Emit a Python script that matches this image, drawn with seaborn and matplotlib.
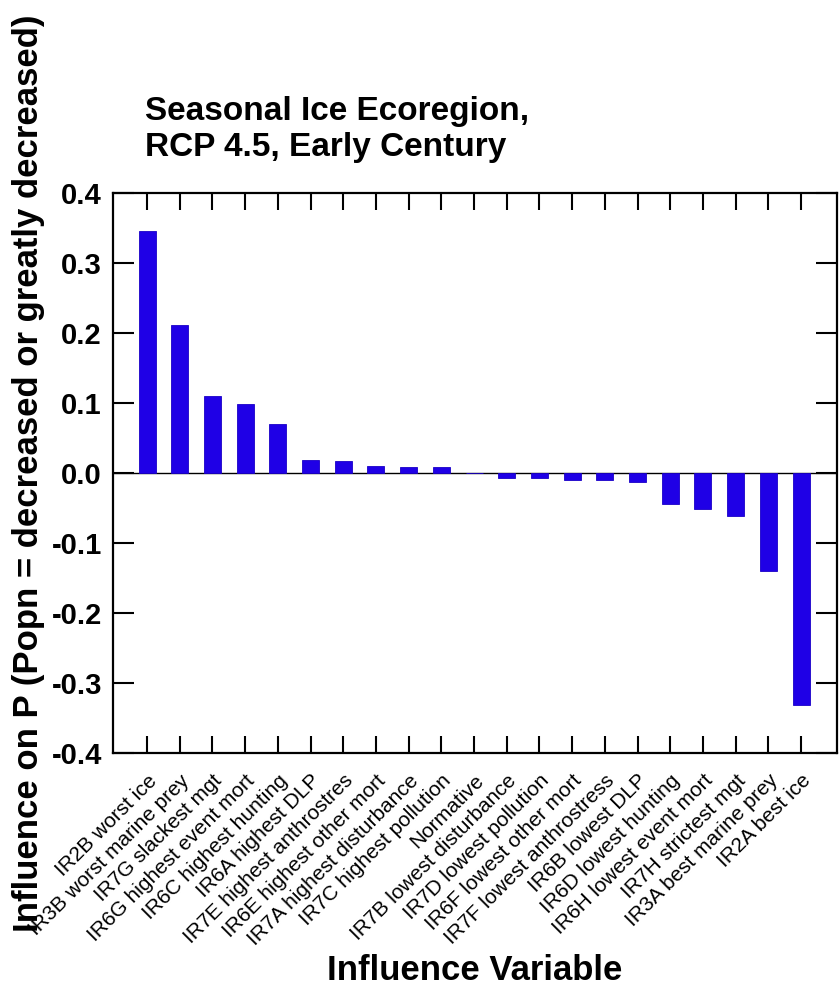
import pandas as pd
import matplotlib.pyplot as plt
import seaborn as sns

# Data
variables = [
    'IR2B worst ice', 'IR3B worst marine prey', 'IR7G slackest mgt',
    'IR6G highest event mort', 'IR6C highest hunting', 'IR6A highest DLP',
    'IR7E highest anthrostres', 'IR6E highest other mort',
    'IR7A highest disturbance', 'IR7C highest pollution', 'Normative',
    'IR7B lowest disturbance', 'IR7D lowest pollution', 'IR6F lowest other mort',
    'IR7F lowest anthrostress', 'IR6B lowest DLP', 'IR6D lowest hunting',
    'IR6H lowest event mort', 'IR7H strictest mgt', 'IR3A best marine prey',
    'IR2A best ice',
]
influence = [
    0.346, 0.212, 0.110, 0.098, 0.070, 0.018, 0.017, 0.010, 0.009, 0.009, 0.0,
    -0.007, -0.007, -0.010, -0.010, -0.013, -0.044, -0.052, -0.061, -0.140,
    -0.332,
]
y_ticks = [-0.4, -0.3, -0.2, -0.1, 0.0, 0.1, 0.2, 0.3, 0.4]

df = pd.DataFrame({'variable': variables, 'influence': influence})

sns.set_style('ticks')
plt.rcParams['font.family'] = ['Liberation Sans', 'DejaVu Sans']
plt.rcParams['text.color'] = 'black'
plt.rcParams['axes.labelcolor'] = 'black'
plt.rcParams['xtick.color'] = 'black'
plt.rcParams['ytick.color'] = 'black'

fig = plt.figure(figsize=(8.39, 9.92), dpi=100)
ax = fig.add_axes([0.1347, 0.2409, 0.8629, 0.5645])

sns.barplot(data=df, x='variable', y='influence', color='#1f00e6',
            saturation=1, width=0.52, edgecolor='#1a00c8', linewidth=0.6, ax=ax)

ax.axhline(0, color='black', lw=1.0, zorder=0)
ax.set_ylim(-0.4, 0.4)
ax.set_xlim(-1.04, 21.1)
ax.set_yticks(y_ticks)
ax.set_yticklabels([f'{t:.1f}' for t in y_ticks], fontsize=21, fontweight='bold')

ax.set_xticks(range(len(variables)))
ax.set_xticklabels(variables, rotation=45, ha='right', rotation_mode='anchor',
                   fontsize=15, va='top')

ax.tick_params(axis='y', direction='in', length=15, width=1.5, right=True, pad=8)
ax.tick_params(axis='x', direction='in', length=12, width=1.5, top=True, pad=13)
for s in ax.spines.values():
    s.set_linewidth(1.6)
    s.set_color('black')

ax.set_xlabel('Influence Variable', fontsize=25, fontweight='bold')
ax.set_ylabel('Influence on P (Popn = decreased or greatly decreased)',
              fontsize=25, fontweight='bold')
ax.yaxis.set_label_coords(-0.094, 0.5)
ax.xaxis.set_label_coords(0.5, -0.358)

fig.text(0.173, 0.836, 'Seasonal Ice Ecoregion,\nRCP 4.5, Early Century',
         fontsize=24, fontweight='bold', ha='left', va='bottom', linespacing=1.2)

fig.savefig('out.png', dpi=100)
